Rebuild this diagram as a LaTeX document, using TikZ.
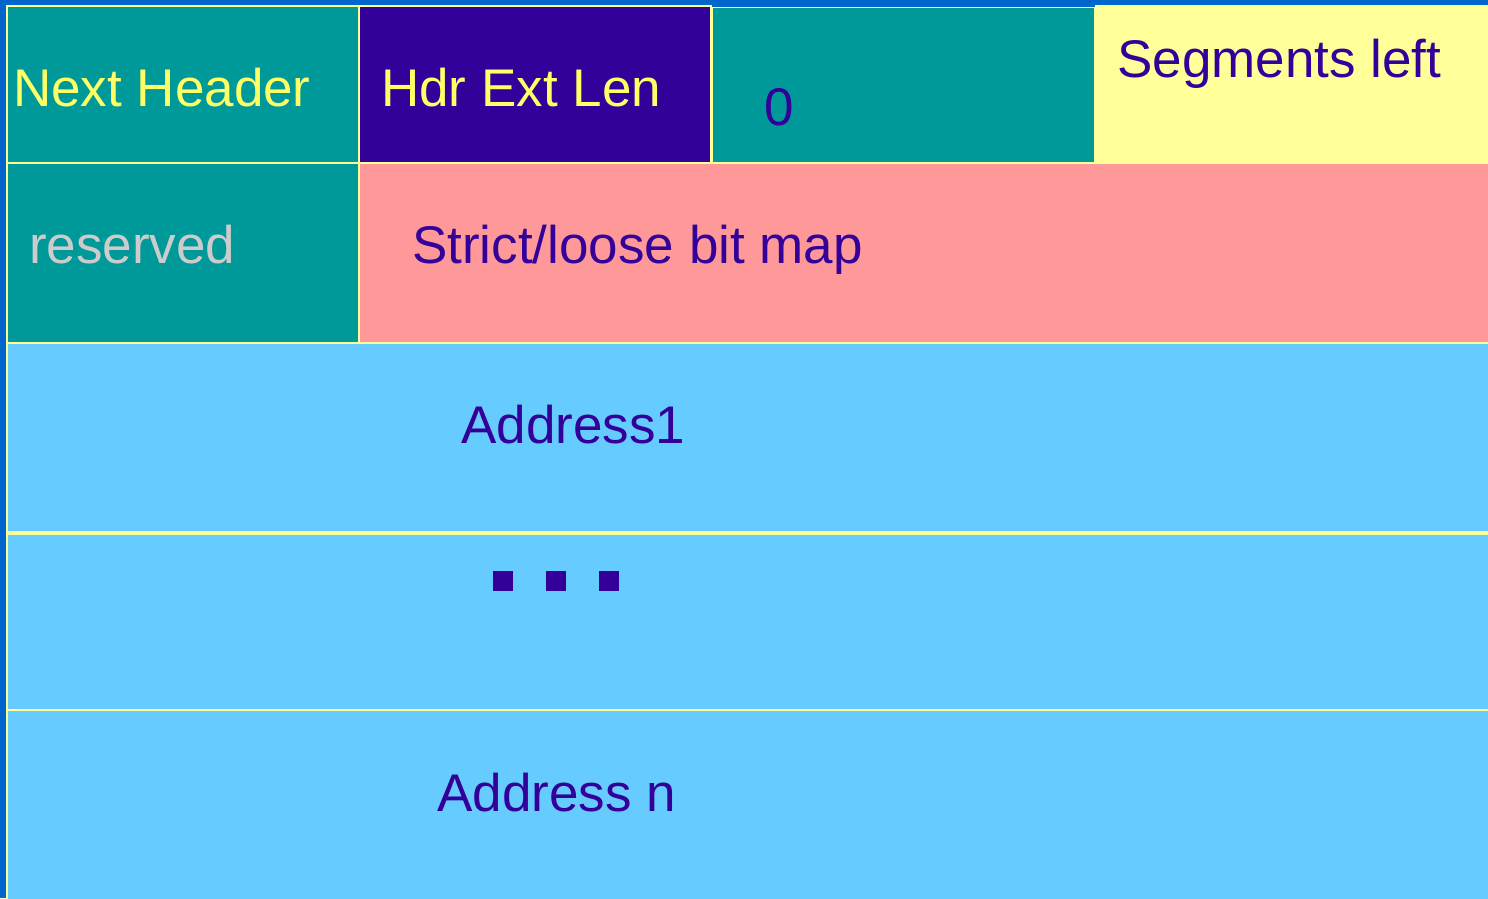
\documentclass[tikz,border=0pt]{standalone}
\usepackage{fontspec}
\setmainfont{Liberation Sans}
\definecolor{bgblue}{HTML}{0066CC}
\definecolor{teal2}{HTML}{009999}
\definecolor{purp}{HTML}{330099}
\definecolor{lyel}{HTML}{FFFF99}
\definecolor{tyel}{HTML}{FFFF66}
\definecolor{pinkc}{HTML}{FF9999}
\definecolor{lblue}{HTML}{66CCFF}
\definecolor{lgray}{HTML}{CCCCCC}
\tikzset{
  cell/.style={draw=lyel, line width=2.5pt},
  lbl/.style={anchor=base west, inner sep=0pt, font=\fontsize{53}{60}\selectfont},
  dot/.style={fill=purp, draw=none}
}
\begin{document}
\begin{tikzpicture}[x=1pt,y=-1pt]
\useasboundingbox (0,0) rectangle (1488,898);
\fill[bgblue] (0,0) rectangle (1488,898);
% row 1
\filldraw[cell, fill=teal2] (7,6) rectangle (359,163);
\filldraw[cell, fill=purp] (359,6) rectangle (711,163);
\filldraw[cell, fill=teal2, line width=1pt] (712,7) rectangle (1094,162);
\fill[lyel] (1095,5) rectangle (1489,163);
% row 2
\filldraw[cell, fill=teal2] (7,163) rectangle (359,343);
\filldraw[cell, fill=pinkc] (359,163) rectangle (1490,343);
% rows 3-5
\filldraw[cell, fill=lblue] (7,343) rectangle (1490,532);
\filldraw[cell, fill=lblue] (7,534) rectangle (1490,710);
\filldraw[cell, fill=lblue] (7,710) rectangle (1490,900);
% labels
\node[lbl, text=tyel] (nh) at (13,106) {Next Header};
\node[lbl, text=tyel] (hel) at (381,106) {Hdr Ext Len};
\node[lbl, text=purp] (zero) at (764,125) {0};
\node[lbl, text=purp] (seg) at (1117,77) {Segments left};
\node[lbl, text=lgray] (res) at (29,263) {reserved};
\node[lbl, text=purp] (bm) at (412,263) {Strict/loose bit map};
\node[lbl, text=purp] (a1) at (461,443) {Address1};
\node[lbl, text=purp] (an) at (437,811) {Address n};
% dots
\fill[dot] (493,571) rectangle (513,591);
\fill[dot] (546,571) rectangle (566,591);
\fill[dot] (599,571) rectangle (619,591);
\end{tikzpicture}
\end{document}
